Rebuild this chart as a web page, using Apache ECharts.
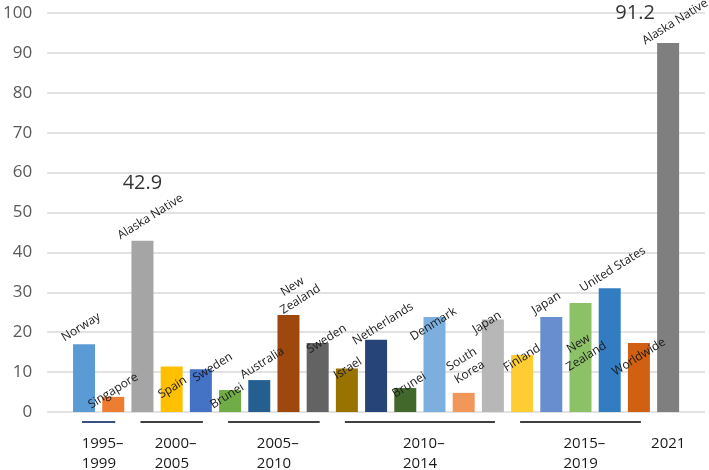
<!DOCTYPE html>
<html>
<head>
<meta charset="utf-8">
<script src="https://cdn.jsdelivr.net/npm/echarts/dist/echarts.min.js"></script>
<style>html,body{margin:0;padding:0;background:#fff}</style>
</head>
<body>
<div id="main" style="width:709px;height:470px"></div>
<script>
// bar names, left to right
const countries = ['Norway', 'Singapore', 'Alaska Native', 'Spain', 'Sweden', 'Brunei', 'Australia', 'New\nZealand', 'Sweden',
  'Israel', 'Netherlands', 'Brunei', 'Denmark', 'South\nKorea', 'Japan', 'Finland', 'Japan', 'New\nZealand', 'United States',
  'Worldwide', 'Alaska Native'];
// values
const rates = [17.0, 3.8, 42.9, 11.4, 10.7, 5.5, 8.0, 24.3, 17.3, 10.9, 18.1, 6.0, 23.8, 4.8, 23.2, 14.3, 23.8, 27.3, 31.0, 17.3, 92.5];
// period groups under the axis
const periodLabels = ['1995–\n1999', '2000–\n2005', '2005–\n2010', '2010–\n2014', '2015–\n2019', '2021'];
const periodFirst = [0, 2, 5, 9, 15, 20];
const periodLast = [1, 4, 8, 14, 19, 20];
// big value callouts
const calloutIndex = [2, 20];
const calloutText = ['42.9', '91.2'];

// styles
const barColors = ['#5B9BD5', '#ED7D31', '#A5A5A5', '#FFC000', '#4472C4', '#70AD47', '#255E91', '#9E480E', '#636363',
  '#997300', '#264478', '#43682B', '#7CAFDD', '#F1975A', '#B7B7B7', '#FFCD33', '#698ED0', '#8CC168', '#327DC2',
  '#D26012', '#7F7F7F'];
// label centre relative to bar top centre (px)
const labelShift = [[-3, -17], [0, -6], [8, -24], [1, 21], [12, -2], [-3, 6], [3, -17], [8, -22], [9, -4],
  [1, 0], [7, -16], [4, -3], [-1, 7], [2, -27], [-6, 3], [0, 3], [-5, -14], [2, 47], [3, -19], [0, 14], [7, -21]];
const calloutShift = [[0, -58], [-33, -30]];

const font = '"Open Sans", "Liberation Sans", sans-serif';
const chart = echarts.init(document.getElementById('main'));

chart.setOption({
  animation: false,
  grid: { left: 45, right: 4, top: 13, bottom: 58 },
  xAxis: { type: 'value', min: -1.263, max: 21.263, show: false },
  yAxis: {
    type: 'value', min: 0, max: 100, interval: 10,
    axisLine: { show: false },
    axisTick: { show: false },
    axisLabel: { color: '#595959', fontSize: 17, fontFamily: font, margin: 15 },
    splitLine: { lineStyle: { color: '#d9d9d9', width: 1.5 } }
  },
  series: [
    {
      type: 'bar',
      barWidth: 22,
      data: rates.map((v, i) => ({ value: [i, v], itemStyle: { color: barColors[i] } })),
      label: {
        show: true,
        position: 'top',
        formatter: p => countries[p.dataIndex],
        fontSize: 12,
        fontFamily: font,
        color: '#1a1a1a',
        lineHeight: 15,
        rotate: 32,
        align: 'center',
        verticalAlign: 'middle'
      },
      labelLayout: function (p) {
        const s = labelShift[p.dataIndex];
        return {
          x: p.rect.x + p.rect.width / 2 + s[0],
          y: p.rect.y + s[1],
          align: 'center',
          verticalAlign: 'middle'
        };
      }
    },
    {
      type: 'scatter',
      symbolSize: 1,
      itemStyle: { color: 'rgba(0,0,0,0)' },
      silent: true,
      data: calloutIndex.map((idx, k) => ({
        value: [idx, rates[idx]],
        name: calloutText[k],
        label: { offset: calloutShift[k] }
      })),
      label: {
        show: true,
        position: 'inside',
        formatter: '{b}',
        fontSize: 20,
        fontFamily: font,
        color: '#000'
      }
    },
    {
      type: 'custom',
      silent: true,
      data: periodFirst.map((f, i) => [f, periodLast[i], 0]),
      encode: { x: [0, 1], y: 2 },
      renderItem: function (params, api) {
        const a = api.coord([api.value(0), 0]);
        const b = api.coord([api.value(1), 0]);
        const y = a[1];
        const children = [];
        if (b[0] > a[0]) {
          children.push({
            type: 'line',
            shape: { x1: a[0] - 2, y1: y + 10, x2: b[0] + 2, y2: y + 10 },
            style: { stroke: params.dataIndex === 0 ? '#3b5180' : '#404040', lineWidth: 2 }
          });
        }
        children.push({
          type: 'text',
          style: {
            text: periodLabels[params.dataIndex],
            x: (a[0] + b[0]) / 2 - 17,
            y: y + 22,
            fill: '#1a1a1a',
            fontSize: 15,
            fontFamily: font,
            lineHeight: 20,
            align: 'left',
            verticalAlign: 'top'
          }
        });
        return { type: 'group', children: children };
      }
    }
  ]
});
</script>
</body>
</html>
